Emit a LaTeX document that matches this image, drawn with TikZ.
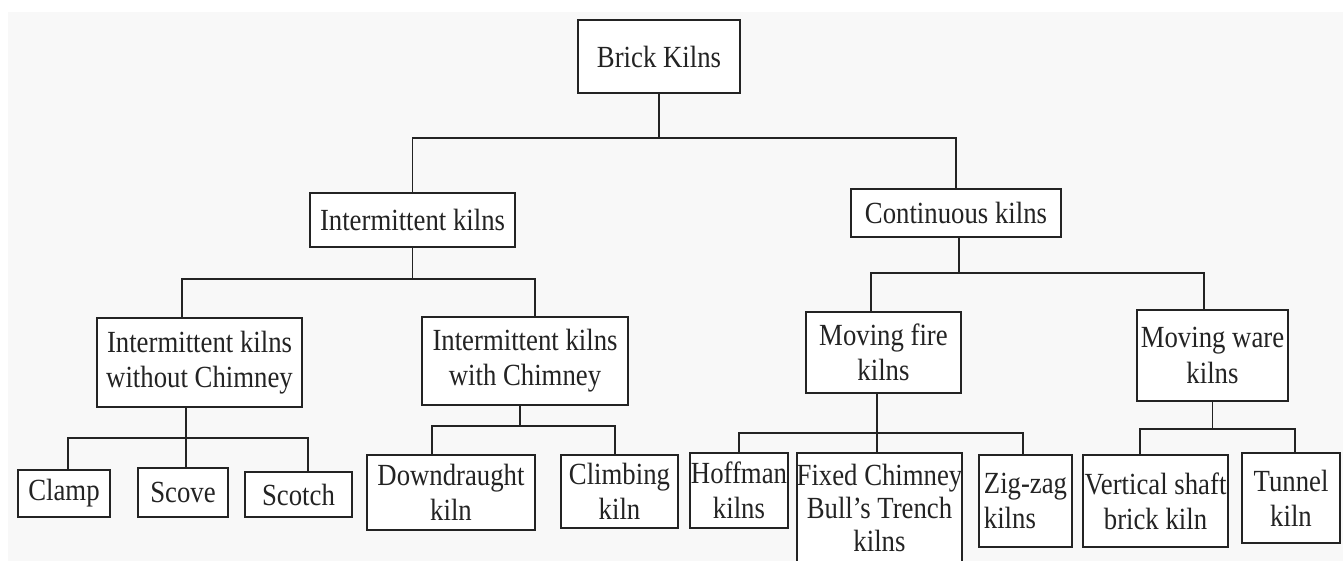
\documentclass[tikz,border=0pt]{standalone}
\usepackage{fontspec}
\setmainfont{Liberation Serif}[FakeStretch=0.87]
\usepackage{tikz}
\usepackage{xcolor}
\definecolor{paper-grey}{RGB}{248,248,248}
\definecolor{ink-grey}{RGB}{35,35,35}
\tikzstyle{kiln}=[draw=ink-grey, line width=1.2pt, fill=white, inner sep=0pt, align=center, text=ink-grey, font=\fontsize{17.5}{20}\selectfont]
\tikzstyle{link}=[draw=ink-grey, line width=1pt]

\begin{document}
\begin{tikzpicture}[x=0.02cm, y=-0.02cm]
	\useasboundingbox (0,0) rectangle (1343,561);
	\clip (0,0) rectangle (1343,561);
	\fill[paper-grey] (8,12) rectangle (1343,561);
	\node[kiln, minimum width=3.24cm, minimum height=1.46cm] (brick) at (659,56.5) {Brick Kilns};
	\node[kiln, minimum width=4.1cm, minimum height=1.08cm] (inter) at (412.5,220) {Intermittent kilns};
	\node[kiln, minimum width=4.2cm, minimum height=0.96cm] (cont) at (956,213) {Continuous kilns};
	\node[kiln, minimum width=4.1cm, minimum height=1.78cm] (nochim) at (199.5,362.5) {Intermittent kilns\\without Chimney};
	\node[kiln, minimum width=4.12cm, minimum height=1.76cm] (chim) at (525,361) {Intermittent kilns\\with Chimney};
	\node[kiln, minimum width=3.1cm, minimum height=1.62cm] (fire) at (883.5,352.5) {Moving fire\\kilns};
	\node[kiln, minimum width=3.02cm, minimum height=1.82cm] (ware) at (1212.5,355.5) {Moving ware\\kilns};
	\node[kiln, minimum width=1.84cm, minimum height=0.94cm] (clamp) at (64,493.5) {Clamp};
	\node[kiln, minimum width=1.8cm, minimum height=0.98cm] (scove) at (183,492.5) {Scove};
	\node[kiln, minimum width=2.14cm, minimum height=0.9cm] (scotch) at (298.5,494.5) {Scotch};
	\node[kiln, minimum width=3.36cm, minimum height=1.5cm] (down) at (451,492.5) {Downdraught\\kiln};
	\node[kiln, minimum width=2.34cm, minimum height=1.46cm] (climb) at (619.5,491.5) {Climbing\\kiln};
	\node[kiln, minimum width=1.96cm, minimum height=1.5cm] (hoff) at (739,490.5) {Hoffman\\kilns};
	\node[kiln, minimum width=3.3cm, minimum height=2.2cm, font=\fontsize{17.5}{19}\selectfont] (fixed) at (879.5,508) {Fixed Chimney\\Bull's Trench\\kilns};
	\node[kiln, minimum width=1.86cm, minimum height=1.84cm, align=left] (zig) at (1025.5,501) {Zig-zag\\kilns};
	\node[kiln, minimum width=2.9cm, minimum height=1.84cm] (vshaft) at (1155.5,501) {Vertical shaft\\brick kiln};
	\node[kiln, minimum width=1.96cm, minimum height=1.8cm] (tunnel) at (1291,498) {Tunnel\\kiln};
	\draw[link] (brick.south) -- (brick.south |- 0,138);
	\draw[link] (inter.north) |- (cont.north |- 0,138) -- (cont.north);
	\draw[link] (inter.south) -- (inter.south |- 0,279);
	\draw[link] ([xshift=-0.35cm]nochim.north) |- ([xshift=0.2cm]chim.north |- 0,279) -- ([xshift=0.2cm]chim.north);
	\draw[link] ([xshift=0.06cm]cont.south) -- ([xshift=0.06cm]cont.south |- 0,273);
	\draw[link] ([xshift=-0.25cm]fire.north) |- ([xshift=-0.17cm]ware.north |- 0,273) -- ([xshift=-0.17cm]ware.north);
	\draw[link] ([xshift=-0.27cm]nochim.south) -- ([xshift=0.06cm]scove.north);
	\draw[link] ([xshift=0.08cm]clamp.north) |- ([xshift=0.19cm]scotch.north |- 0,438) -- ([xshift=0.19cm]scotch.north);
	\draw[link] ([xshift=-0.1cm]chim.south) -- ([xshift=-0.1cm]chim.south |- 0,426);
	\draw[link] ([xshift=-0.38cm]down.north) |- ([xshift=-0.09cm]climb.north |- 0,426) -- ([xshift=-0.09cm]climb.north);
	\draw[link] ([xshift=-0.13cm]fire.south) -- ([xshift=-0.05cm]fixed.north);
	\draw[link] (hoff.north) |- ([xshift=-0.05cm]zig.north |- 0,433) -- ([xshift=-0.05cm]zig.north);
	\draw[link] (ware.south) -- (ware.south |- 0,429);
	\draw[link] ([xshift=-0.31cm]vshaft.north) |- ([xshift=0.08cm]tunnel.north |- 0,429) -- ([xshift=0.08cm]tunnel.north);
\end{tikzpicture}
\end{document}
